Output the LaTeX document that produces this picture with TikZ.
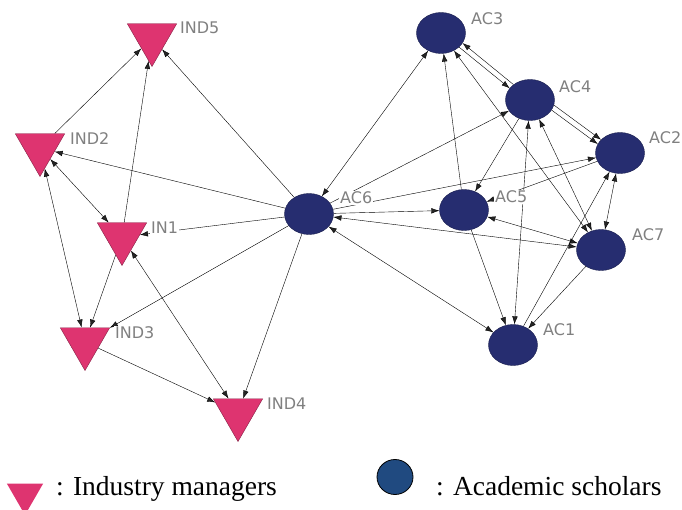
\documentclass[tikz,border=0pt]{standalone}
\usepackage{fontspec}
\setmainfont{Liberation Serif}
\newfontfamily\labelfont{DejaVu Sans}
\usetikzlibrary{arrows.meta,shapes.geometric,backgrounds}
\definecolor{indpink}{RGB}{222,52,112}
\definecolor{acnavy}{RGB}{38,45,112}
\definecolor{legblue}{RGB}{32,74,128}
\definecolor{lblgray}{RGB}{128,128,128}
\tikzset{
  manager/.style={regular polygon,regular polygon sides=3,shape border rotate=180,
    minimum size=57pt,inner sep=0pt,fill=indpink,draw=indpink!60!black,line width=0.4pt},
  scholar/.style={ellipse,minimum width=49pt,minimum height=41pt,inner sep=0pt,
    fill=acnavy,draw=acnavy!70!black,line width=0.4pt},
  tag/.style={anchor=west,font=\labelfont\fontsize{16}{16}\selectfont,text=lblgray,
    fill=white,inner sep=1pt},
  link/.style={draw=black!85,line width=0.45pt},
  legtext/.style={anchor=base west,font=\fontsize{27.5}{28}\selectfont,inner sep=0pt},
}

\begin{document}
\begin{tikzpicture}[x=1pt,y=-1pt,>={Latex[length=8pt,width=5.5pt]}]
\useasboundingbox (0,0) rectangle (682,510);
% industry managers
\node[manager] (IND5) at (152,38) {};
\node[manager] (IND2) at (40,148) {};
\node[manager] (IN1) at (122,237) {};
\node[manager] (IND3) at (85,342) {};
\node[manager] (IND4) at (238,413) {};
% academic scholars
\node[scholar] (AC6) at (309,214) {};
\node[scholar] (AC3) at (441,33) {};
\node[scholar] (AC4) at (530,100) {};
\node[scholar] (AC2) at (620,153) {};
\node[scholar] (AC5) at (464,210) {};
\node[scholar] (AC7) at (601,250) {};
\node[scholar] (AC1) at (513,345) {};

\begin{scope}[on background layer,link]
  % left group
  \draw[->] (IND2) -- (IND5);
  \draw[->] (IN1) -- (IND5);
  \draw[->] (AC6) -- (IND5);
  \draw[->] (AC6) -- (IND2);
  \draw[<->] (IND2) -- (IN1);
  \draw[<->] (IND2) -- (IND3);
  \draw[->] (IN1) -- (IND3);
  \draw[->] (AC6) -- (IN1);
  \draw[->] (AC6) -- (IND3);
  \draw[->] (IND3) -- (IND4);
  \draw[<->] (IN1) -- (IND4);
  \draw[->] (AC6) -- (IND4);
  % right group
  \draw[<->] (AC6) -- (AC3);
  \draw[->] (AC5) -- (AC3);
  \draw[->] (AC3.-38) -- (AC4.150);
  \draw[->] (AC4.137) -- (AC3.-25);
  \draw[<->] (AC3) -- (AC7);
  \draw[->] (AC4) -- (AC5);
  \draw[->] (AC6) -- (AC4);
  \draw[->] (AC6) -- (AC2);
  \draw[->] (AC2) -- (AC5);
  \draw[->] (AC6) -- (AC5);
  \draw[<->] (AC6) -- (AC7);
  \draw[<->] (AC5) -- (AC7);
  \draw[<->] (AC6) -- (AC1);
  \draw[->] (AC5) -- (AC1);
  \draw[<->] (AC4) -- (AC1);
  \draw[<->] (AC4) -- (AC7);
  \draw[->] (AC4.-25) -- (AC2.158);
  \draw[->] (AC4.-12) -- (AC2.145);
  \draw[<->] (AC2) -- (AC7);
  \draw[->] (AC1) -- (AC2);
  \draw[->] (AC7) -- (AC1);
\end{scope}

% labels
\node[tag] (IND5-t) at (179,28) {IND5};
\node[tag] (IND2-t) at (69,139) {IND2};
\node[tag] (IN1-t) at (150,228) {IN1};
\node[tag] (IND3-t) at (114,333) {IND3};
\node[tag] (IND4-t) at (266,404) {IND4};
\node[tag] (AC6-t) at (339,198) {AC6};
\node[tag] (AC3-t) at (470,19) {AC3};
\node[tag] (AC4-t) at (558,87) {AC4};
\node[tag] (AC2-t) at (648,138) {AC2};
\node[tag] (AC5-t) at (494,197) {AC5};
\node[tag] (AC7-t) at (631,235) {AC7};
\node[tag] (AC1-t) at (542,330) {AC1};

% legend
\node[manager,minimum size=42pt,draw=none] (legIND) at (25,494) {};
\node[legtext] (legIND-t) at (56,495) {: Industry managers};
\node[ellipse,minimum width=36pt,minimum height=35pt,inner sep=0pt,fill=legblue,
  draw=black,line width=0.8pt] (legAC) at (395,477) {};
\node[legtext] (legAC-t) at (436,495) {: Academic scholars};
\end{tikzpicture}
\end{document}
